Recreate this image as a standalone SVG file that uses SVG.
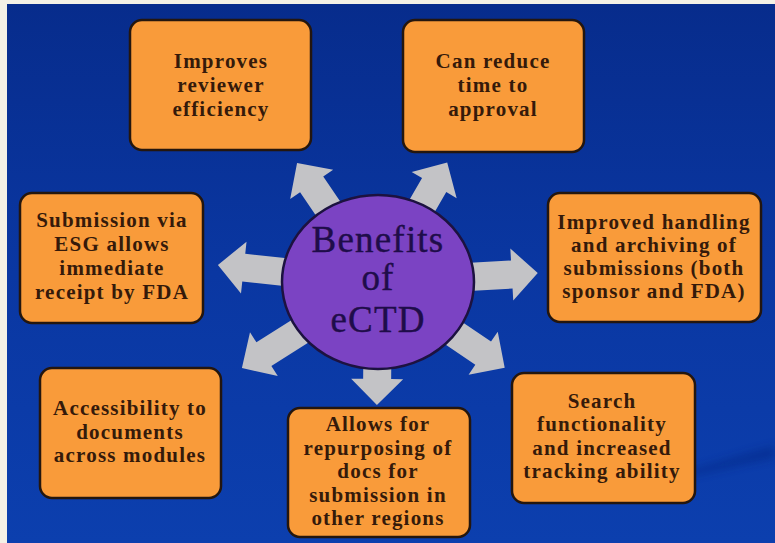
<svg xmlns="http://www.w3.org/2000/svg" width="775" height="543" viewBox="0 0 775 543">
  <defs>
    <linearGradient id="bg" x1="0" y1="0" x2="0" y2="1">
      <stop offset="0" stop-color="#072c8c"/>
      <stop offset="0.5" stop-color="#0a37a2"/>
      <stop offset="1" stop-color="#0c3fae"/>
    </linearGradient>
    <filter id="soft" x="-20%" y="-50%" width="140%" height="200%">
      <feGaussianBlur stdDeviation="4"/>
    </filter>
    <style>
      .box rect { fill: #f99b3a; stroke: #24160e; stroke-width: 2.5; }
      .box text { font-family: "Liberation Serif", "Times New Roman", serif; font-weight: bold; font-size: 21px; letter-spacing: 1.2px; fill: #351a0a; text-anchor: middle; }
      .arrow { fill: #c3c3c6; }
      .hub ellipse { fill: #7b43c3; stroke: #1c1240; stroke-width: 2.5; }
      .hub text { font-family: "Liberation Serif", "Times New Roman", serif; font-size: 37px; letter-spacing: 1.2px; fill: #1f0d4a; stroke: #1f0d4a; stroke-width: 0.4; text-anchor: middle; }
    </style>
  </defs>

  <rect x="0" y="0" width="775" height="543" fill="#f4f1e6"/>
  <rect x="7" y="4" width="768" height="539" fill="url(#bg)"/>
  <path d="M690,470 C720,462 750,452 775,446 L775,458 C750,462 720,470 690,476 Z" fill="#05247e" opacity="0.45" filter="url(#soft)"/>

  <g id="connectors">
    <polygon class="arrow" transform="translate(378,282) rotate(-124.2)" points="0,-14 118,-14 118,-26 144,0 118,26 118,14 0,14"/>
    <polygon class="arrow" transform="translate(378,282) rotate(-59.9)" points="0,-14 112,-14 112,-26 138,0 112,26 112,14 0,14"/>
    <polygon class="arrow" transform="translate(378,282) rotate(-173.9)" points="0,-14 135,-14 135,-26 161,0 135,26 135,14 0,14"/>
    <polygon class="arrow" transform="translate(378,282) rotate(-3.2)" points="0,-14 134,-14 134,-26 160,0 134,26 134,14 0,14"/>
    <polygon class="arrow" transform="translate(378,282) rotate(147.7)" points="0,-14 135,-14 135,-26 161,0 135,26 135,14 0,14"/>
    <polygon class="arrow" transform="translate(378,282) rotate(34.1)" points="0,-14 127,-14 127,-26 153,0 127,26 127,14 0,14"/>
    <polygon class="arrow" transform="translate(378,282) rotate(90.5)" points="0,-14 97,-14 97,-26 123,0 97,26 97,14 0,14"/>
  </g>

  <g id="hub" class="hub">
    <ellipse cx="378" cy="282" rx="96" ry="87"/>
    <text x="378" y="252">Benefits</text>
    <text x="378" y="290">of</text>
    <text x="378" y="332">eCTD</text>
  </g>

  <g id="reviewer-efficiency" class="box">
    <rect x="130" y="20" width="181" height="130" rx="12"/>
    <text x="221" y="68">Improves</text>
    <text x="221" y="92">reviewer</text>
    <text x="221" y="116">efficiency</text>
  </g>

  <g id="time-to-approval" class="box">
    <rect x="403" y="20" width="181" height="132" rx="12"/>
    <text x="493" y="68">Can reduce</text>
    <text x="493" y="92">time to</text>
    <text x="493" y="116">approval</text>
  </g>

  <g id="esg-submission" class="box">
    <rect x="20" y="193" width="183" height="130" rx="12"/>
    <text x="112" y="227">Submission via</text>
    <text x="112" y="251">ESG allows</text>
    <text x="112" y="275">immediate</text>
    <text x="112" y="299">receipt by FDA</text>
  </g>

  <g id="handling-archiving" class="box">
    <rect x="548" y="193" width="213" height="129" rx="12"/>
    <text x="654" y="229">Improved handling</text>
    <text x="654" y="252">and archiving of</text>
    <text x="654" y="275">submissions (both</text>
    <text x="654" y="298">sponsor and FDA)</text>
  </g>

  <g id="accessibility" class="box">
    <rect x="40" y="368" width="181" height="130" rx="12"/>
    <text x="130" y="415">Accessibility to</text>
    <text x="130" y="439">documents</text>
    <text x="130" y="462">across modules</text>
  </g>

  <g id="repurposing" class="box">
    <rect x="288" y="408" width="182" height="129" rx="12"/>
    <text x="378" y="431">Allows for</text>
    <text x="378" y="455">repurposing of</text>
    <text x="378" y="478">docs for</text>
    <text x="378" y="502">submission in</text>
    <text x="378" y="525">other regions</text>
  </g>

  <g id="search-tracking" class="box">
    <rect x="512" y="373" width="183" height="130" rx="12"/>
    <text x="602" y="408">Search</text>
    <text x="602" y="431">functionality</text>
    <text x="602" y="455">and increased</text>
    <text x="602" y="478">tracking ability</text>
  </g>
</svg>
